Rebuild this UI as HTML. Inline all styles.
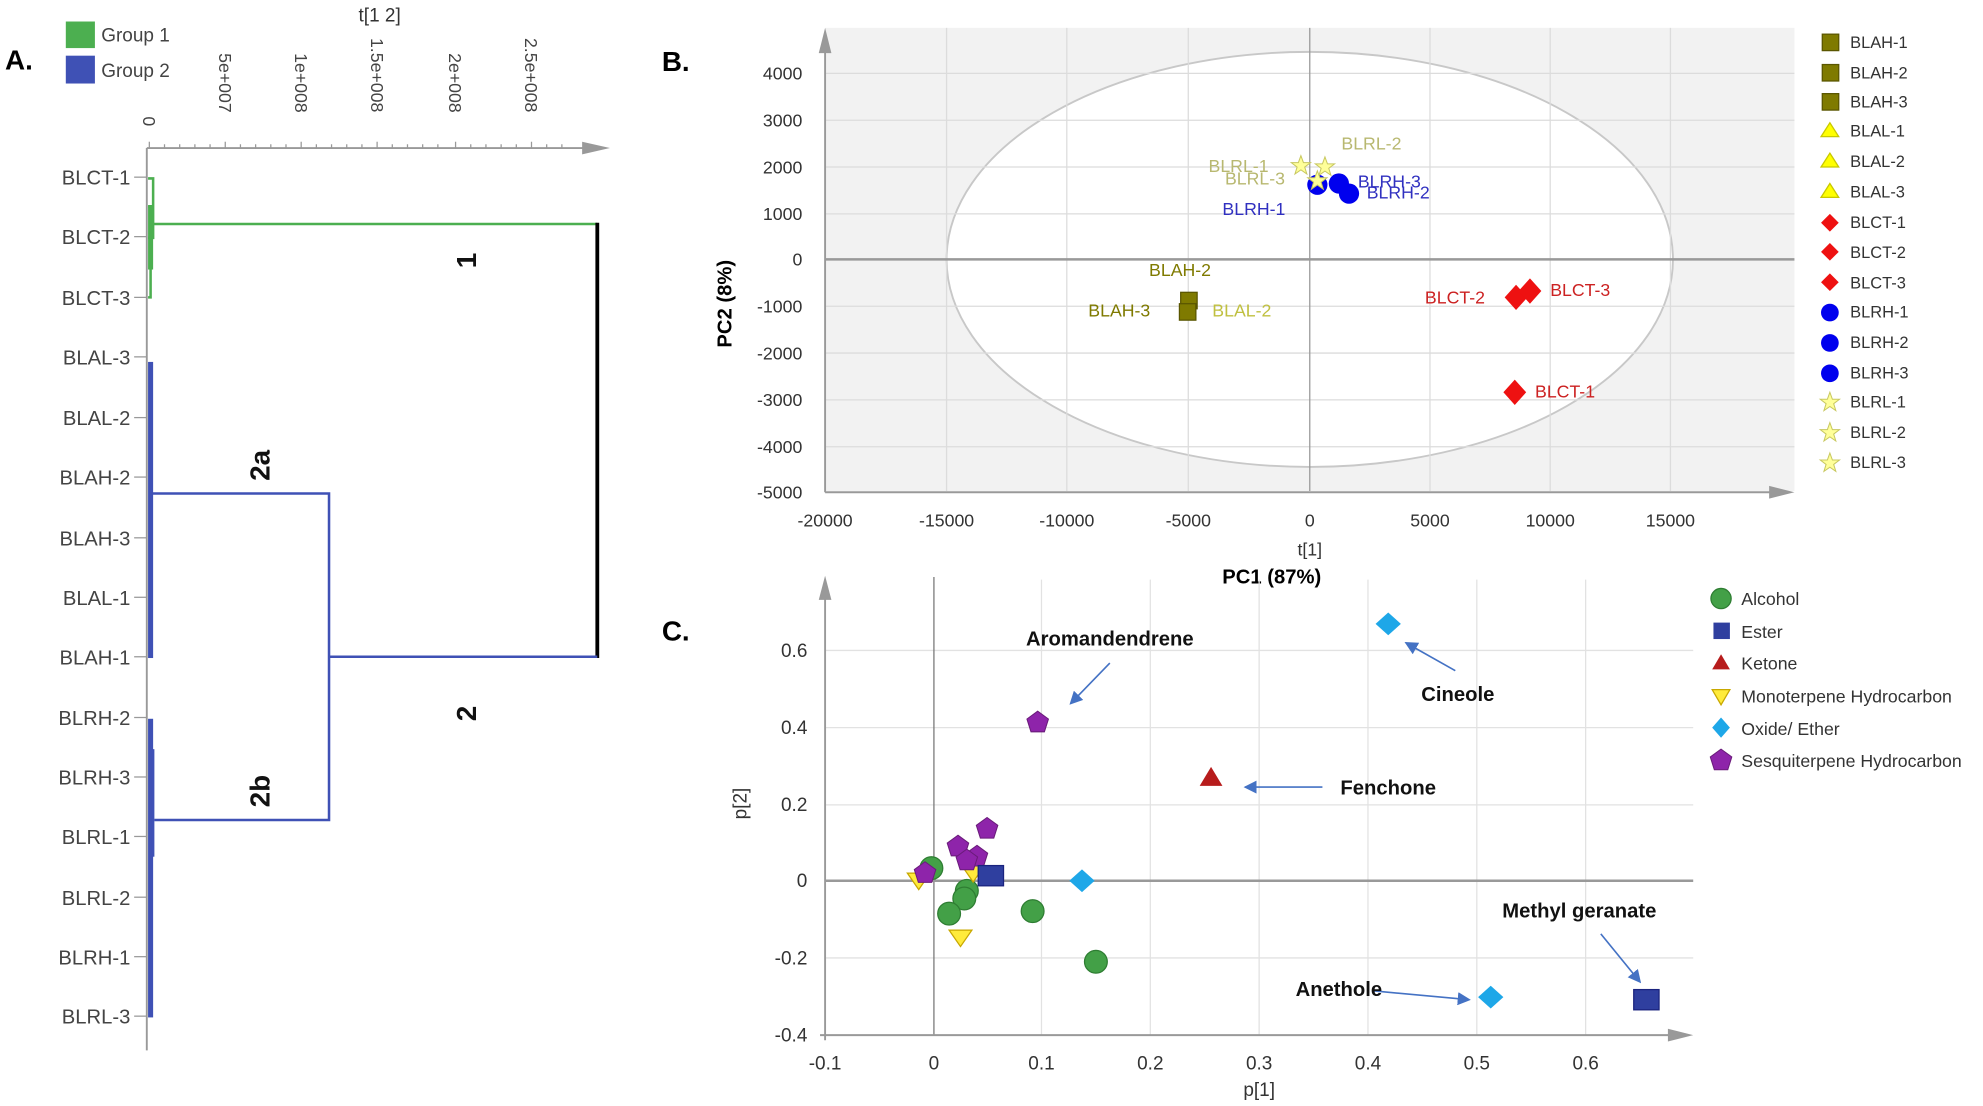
<!DOCTYPE html>
<html><head><meta charset="utf-8"><style>
html,body{margin:0;padding:0;background:#fff;}
svg{display:block;}
text{font-family:"Liberation Sans",sans-serif;}
</style></head><body>
<svg width="1983" height="1106" viewBox="0 0 1567 874" preserveAspectRatio="none" xmlns="http://www.w3.org/2000/svg">
<defs>
<polygon id="star" points="0,-8 2,-2.5 7.6,-2.5 3,1 4.7,6.5 0,3.2 -4.7,6.5 -3,1 -7.6,-2.5 -2,-2.5" fill="#ffff99" stroke="#c8c860" stroke-width="0.8"/>
<polygon id="pent" points="0,-9 8.5,-2.8 5.3,7.3 -5.3,7.3 -8.5,-2.8" fill="#8e24aa" stroke="#6a1b7a" stroke-width="0.8"/>
<marker id="ah" markerWidth="8" markerHeight="8" refX="7" refY="4" orient="auto"><path d="M0,0 L8,4 L0,8 z" fill="#4472c4"/></marker>
</defs>

<!-- ============ PANEL A ============ -->
<text x="4" y="55" font-size="22" font-weight="bold">A.</text>
<rect x="52" y="17" width="23" height="21" fill="#4caf50"/>
<rect x="52" y="44" width="23" height="22" fill="#3f51b5"/>
<text x="80" y="33" font-size="15" fill="#444">Group 1</text>
<text x="80" y="61" font-size="15" fill="#444">Group 2</text>
<text x="300" y="17" font-size="15" fill="#333" text-anchor="middle">t[1 2]</text>
<g font-size="14" fill="#444">
<text transform="translate(113,92) rotate(90)">0</text>
<text transform="translate(173,42) rotate(90)">5e+007</text>
<text transform="translate(233,42) rotate(90)">1e+008</text>
<text transform="translate(293,30) rotate(90)">1.5e+008</text>
<text transform="translate(355,42) rotate(90)">2e+008</text>
<text transform="translate(415,30) rotate(90)">2.5e+008</text>
</g>
<line x1="116" y1="117" x2="465" y2="117" stroke="#999" stroke-width="1.5"/>
<polygon points="460,112 482,117 460,122" fill="#999"/>
<g stroke="#999" stroke-width="1">
<line x1="118" y1="112" x2="118" y2="117"/><line x1="130" y1="114" x2="130" y2="117"/><line x1="142" y1="114" x2="142" y2="117"/><line x1="154" y1="114" x2="154" y2="117"/><line x1="166" y1="114" x2="166" y2="117"/>
<line x1="178" y1="112" x2="178" y2="117"/><line x1="190" y1="114" x2="190" y2="117"/><line x1="202" y1="114" x2="202" y2="117"/><line x1="214" y1="114" x2="214" y2="117"/><line x1="226" y1="114" x2="226" y2="117"/>
<line x1="238" y1="112" x2="238" y2="117"/><line x1="250" y1="114" x2="250" y2="117"/><line x1="262" y1="114" x2="262" y2="117"/><line x1="274" y1="114" x2="274" y2="117"/><line x1="286" y1="114" x2="286" y2="117"/>
<line x1="298" y1="112" x2="298" y2="117"/><line x1="310" y1="114" x2="310" y2="117"/><line x1="322" y1="114" x2="322" y2="117"/><line x1="334" y1="114" x2="334" y2="117"/><line x1="346" y1="114" x2="346" y2="117"/>
<line x1="360" y1="112" x2="360" y2="117"/><line x1="372" y1="114" x2="372" y2="117"/><line x1="384" y1="114" x2="384" y2="117"/><line x1="396" y1="114" x2="396" y2="117"/><line x1="408" y1="114" x2="408" y2="117"/>
<line x1="420" y1="112" x2="420" y2="117"/><line x1="432" y1="114" x2="432" y2="117"/><line x1="444" y1="114" x2="444" y2="117"/>
</g>
<line x1="116" y1="117" x2="116" y2="830" stroke="#999" stroke-width="1.5"/>
<g font-size="16" fill="#444" text-anchor="end">
<text x="103" y="146">BLCT-1</text><text x="103" y="193">BLCT-2</text><text x="103" y="241">BLCT-3</text>
<text x="103" y="288">BLAL-3</text><text x="103" y="336">BLAL-2</text><text x="103" y="383">BLAH-2</text>
<text x="103" y="431">BLAH-3</text><text x="103" y="478">BLAL-1</text><text x="103" y="525">BLAH-1</text>
<text x="103" y="573">BLRH-2</text><text x="103" y="620">BLRH-3</text><text x="103" y="667">BLRL-1</text>
<text x="103" y="715">BLRL-2</text><text x="103" y="762">BLRH-1</text><text x="103" y="809">BLRL-3</text>
</g>
<g stroke="#999" stroke-width="1">
<line x1="106" y1="140" x2="116" y2="140"/><line x1="106" y1="187" x2="116" y2="187"/><line x1="106" y1="235" x2="116" y2="235"/><line x1="106" y1="282" x2="116" y2="282"/><line x1="106" y1="330" x2="116" y2="330"/><line x1="106" y1="377" x2="116" y2="377"/><line x1="106" y1="425" x2="116" y2="425"/><line x1="106" y1="472" x2="116" y2="472"/><line x1="106" y1="519" x2="116" y2="519"/><line x1="106" y1="567" x2="116" y2="567"/><line x1="106" y1="614" x2="116" y2="614"/><line x1="106" y1="661" x2="116" y2="661"/><line x1="106" y1="709" x2="116" y2="709"/><line x1="106" y1="756" x2="116" y2="756"/><line x1="106" y1="803" x2="116" y2="803"/>
</g>
<!-- green cluster -->
<g stroke="#4caf50" stroke-width="2" fill="none">
<path d="M117,141 H121 V188 H117"/>
<path d="M117,163 H121"/>
<rect x="117" y="163" width="4" height="50" fill="#4caf50" stroke="none"/>
<path d="M117,235 H119 V200"/>
<path d="M121,177 H472"/>
</g>
<line x1="472" y1="176" x2="472" y2="520" stroke="#000" stroke-width="3"/>
<!-- blue cluster -->
<rect x="117" y="286" width="4" height="234" fill="#3f51b5"/>
<rect x="117" y="568" width="4" height="236" fill="#3f51b5"/>
<rect x="120" y="592" width="2" height="85" fill="#3f51b5"/>
<g stroke="#3f51b5" stroke-width="2" fill="none">
<path d="M120,390 H260 V648 H122"/>
<path d="M260,519 H472"/>
</g>
<g font-size="22" font-weight="bold" fill="#111">
<text transform="translate(376,212) rotate(-90)">1</text>
<text transform="translate(376,570) rotate(-90)">2</text>
<text transform="translate(213,380) rotate(-90)">2a</text>
<text transform="translate(213,638) rotate(-90)">2b</text>
</g>

<!-- ============ PANEL B ============ -->
<text x="523" y="56" font-size="22" font-weight="bold">B.</text>
<rect x="652" y="22" width="766" height="366" fill="#f2f2f2"/>
<ellipse cx="1035" cy="205" rx="287" ry="164" fill="#fff" stroke="#c8c8c8" stroke-width="1.5"/>
<g stroke="#dcdcdc" stroke-width="1">
<line x1="652" y1="58" x2="1418" y2="58"/><line x1="652" y1="95" x2="1418" y2="95"/><line x1="652" y1="132" x2="1418" y2="132"/><line x1="652" y1="169" x2="1418" y2="169"/><line x1="652" y1="242" x2="1418" y2="242"/><line x1="652" y1="279" x2="1418" y2="279"/><line x1="652" y1="316" x2="1418" y2="316"/><line x1="652" y1="353" x2="1418" y2="353"/>
<line x1="748" y1="22" x2="748" y2="388"/><line x1="843" y1="22" x2="843" y2="388"/><line x1="939" y1="22" x2="939" y2="388"/><line x1="1130" y1="22" x2="1130" y2="388"/><line x1="1225" y1="22" x2="1225" y2="388"/><line x1="1320" y1="22" x2="1320" y2="388"/>
</g>
<line x1="652" y1="205" x2="1418" y2="205" stroke="#999" stroke-width="2"/>
<line x1="1035" y1="22" x2="1035" y2="388" stroke="#999" stroke-width="1"/>
<line x1="652" y1="40" x2="652" y2="389" stroke="#999" stroke-width="1.5"/>
<polygon points="647,42 652,22 657,42" fill="#999"/>
<line x1="652" y1="389" x2="1400" y2="389" stroke="#999" stroke-width="1.5"/>
<polygon points="1398,384 1418,389 1398,394" fill="#999"/>
<g font-size="14" fill="#333" text-anchor="end">
<text x="634" y="63">4000</text><text x="634" y="100">3000</text><text x="634" y="137">2000</text><text x="634" y="174">1000</text><text x="634" y="210">0</text><text x="634" y="247">-1000</text><text x="634" y="284">-2000</text><text x="634" y="321">-3000</text><text x="634" y="358">-4000</text><text x="634" y="394">-5000</text>
</g>
<g font-size="14" fill="#333" text-anchor="middle">
<text x="652" y="416">-20000</text><text x="748" y="416">-15000</text><text x="843" y="416">-10000</text><text x="939" y="416">-5000</text><text x="1035" y="416">0</text><text x="1130" y="416">5000</text><text x="1225" y="416">10000</text><text x="1320" y="416">15000</text>
<text x="1035" y="439">t[1]</text>
</g>
<text x="1005" y="461" font-size="16" font-weight="bold" text-anchor="middle">PC1 (87%)</text>
<text transform="translate(578,240) rotate(-90)" font-size="16" font-weight="bold" text-anchor="middle">PC2 (8%)</text>
<!-- points -->
<rect x="933" y="231" width="13" height="13" fill="#7f7a00" stroke="#5a5600"/>
<rect x="932" y="240" width="13" height="13" fill="#7f7a00" stroke="#5a5600"/>
<circle cx="1041" cy="146" r="8" fill="#0000ee"/>
<circle cx="1058" cy="145" r="8" fill="#0000ee"/>
<circle cx="1066" cy="153" r="8" fill="#0000ee"/>
<use href="#star" x="1028" y="131"/><use href="#star" x="1047" y="132"/><use href="#star" x="1041" y="143"/>
<polygon points="1198,225 1207,235 1198,245 1189,235" fill="#ee1111"/>
<polygon points="1209,220 1218,230 1209,240 1200,230" fill="#ee1111"/>
<polygon points="1197,300 1206,310 1197,320 1188,310" fill="#ee1111"/>
<g font-size="14">
<text x="1060" y="118" fill="#b8b870">BLRL-2</text>
<text x="955" y="136" fill="#b8b870">BLRL-1</text>
<text x="968" y="146" fill="#b8b870">BLRL-3</text>
<text x="1073" y="148" fill="#3030c0">BLRH-3</text>
<text x="1080" y="157" fill="#3030c0">BLRH-2</text>
<text x="966" y="170" fill="#3030c0">BLRH-1</text>
<text x="908" y="218" fill="#7f7a00">BLAH-2</text>
<text x="860" y="250" fill="#7f7a00">BLAH-3</text>
<text x="958" y="250" fill="#c0c040">BLAL-2</text>
<text x="1126" y="240" fill="#cc2222">BLCT-2</text>
<text x="1225" y="234" fill="#cc2222">BLCT-3</text>
<text x="1213" y="314" fill="#cc2222">BLCT-1</text>
</g>
<!-- legend B -->
<g font-size="13" fill="#333">
<rect x="1440" y="27" width="13" height="13" fill="#7f7a00" stroke="#5a5600"/><text x="1462" y="38">BLAH-1</text>
<rect x="1440" y="51" width="13" height="13" fill="#7f7a00" stroke="#5a5600"/><text x="1462" y="62">BLAH-2</text>
<rect x="1440" y="74" width="13" height="13" fill="#7f7a00" stroke="#5a5600"/><text x="1462" y="85">BLAH-3</text>
<polygon points="1446,97 1453,108 1439,108" fill="#ffff00" stroke="#c8c800"/><text x="1462" y="108">BLAL-1</text>
<polygon points="1446,121 1453,132 1439,132" fill="#ffff00" stroke="#c8c800"/><text x="1462" y="132">BLAL-2</text>
<polygon points="1446,145 1453,156 1439,156" fill="#ffff00" stroke="#c8c800"/><text x="1462" y="156">BLAL-3</text>
<polygon points="1446,169 1453,176 1446,183 1439,176" fill="#ee1111"/><text x="1462" y="180">BLCT-1</text>
<polygon points="1446,192 1453,199 1446,206 1439,199" fill="#ee1111"/><text x="1462" y="204">BLCT-2</text>
<polygon points="1446,216 1453,223 1446,230 1439,223" fill="#ee1111"/><text x="1462" y="228">BLCT-3</text>
<circle cx="1446" cy="247" r="7" fill="#0000ee"/><text x="1462" y="251">BLRH-1</text>
<circle cx="1446" cy="271" r="7" fill="#0000ee"/><text x="1462" y="275">BLRH-2</text>
<circle cx="1446" cy="295" r="7" fill="#0000ee"/><text x="1462" y="299">BLRH-3</text>
<use href="#star" x="1446" y="318"/><text x="1462" y="322">BLRL-1</text>
<use href="#star" x="1446" y="342"/><text x="1462" y="346">BLRL-2</text>
<use href="#star" x="1446" y="366"/><text x="1462" y="370">BLRL-3</text>
</g>

<!-- ============ PANEL C ============ -->
<text x="523" y="506" font-size="22" font-weight="bold">C.</text>
<g stroke="#e2e2e2" stroke-width="1">
<line x1="823" y1="458" x2="823" y2="818"/><line x1="909" y1="458" x2="909" y2="818"/><line x1="995" y1="458" x2="995" y2="818"/><line x1="1081" y1="458" x2="1081" y2="818"/><line x1="1167" y1="458" x2="1167" y2="818"/><line x1="1253" y1="458" x2="1253" y2="818"/>
<line x1="652" y1="514" x2="1338" y2="514"/><line x1="652" y1="575" x2="1338" y2="575"/><line x1="652" y1="636" x2="1338" y2="636"/><line x1="652" y1="757" x2="1338" y2="757"/>
</g>
<line x1="738" y1="456" x2="738" y2="818" stroke="#777" stroke-width="1"/>
<line x1="652" y1="696" x2="1338" y2="696" stroke="#999" stroke-width="2"/>
<line x1="652" y1="470" x2="652" y2="822" stroke="#999" stroke-width="1.5"/>
<polygon points="647,474 652,455 657,474" fill="#999"/>
<line x1="648" y1="818" x2="1320" y2="818" stroke="#999" stroke-width="1.5"/>
<polygon points="1318,813 1338,818 1318,823" fill="#999"/>
<g font-size="15" fill="#333" text-anchor="end">
<text x="638" y="519">0.6</text><text x="638" y="580">0.4</text><text x="638" y="641">0.2</text><text x="638" y="701">0</text><text x="638" y="762">-0.2</text><text x="638" y="823">-0.4</text>
</g>
<g font-size="15" fill="#333" text-anchor="middle">
<text x="652" y="845">-0.1</text><text x="738" y="845">0</text><text x="823" y="845">0.1</text><text x="909" y="845">0.2</text><text x="995" y="845">0.3</text><text x="1081" y="845">0.4</text><text x="1167" y="845">0.5</text><text x="1253" y="845">0.6</text>
<text x="995" y="866">p[1]</text>
</g>
<text transform="translate(590,635) rotate(-90)" font-size="15" fill="#333" text-anchor="middle">p[2]</text>
<!-- points C -->
<circle cx="736" cy="686" r="9" fill="#43a047" stroke="#2e7d32"/>
<circle cx="764" cy="704" r="9" fill="#43a047" stroke="#2e7d32"/>
<circle cx="762" cy="710" r="9" fill="#43a047" stroke="#2e7d32"/>
<circle cx="750" cy="722" r="9" fill="#43a047" stroke="#2e7d32"/>
<circle cx="816" cy="720" r="9" fill="#43a047" stroke="#2e7d32"/>
<circle cx="866" cy="760" r="9" fill="#43a047" stroke="#2e7d32"/>
<polygon points="717,690 735,690 726,703" fill="#ffeb3b" stroke="#c8a800"/>
<polygon points="760,684 778,684 769,697" fill="#ffeb3b" stroke="#c8a800"/>
<polygon points="750,735 768,735 759,748" fill="#ffeb3b" stroke="#c8a800"/>
<use href="#pent" x="780" y="655"/><use href="#pent" x="757" y="669"/><use href="#pent" x="772" y="677"/><use href="#pent" x="764" y="680"/><use href="#pent" x="731" y="690"/>
<use href="#pent" x="820" y="571"/>
<rect x="773" y="684" width="20" height="16" fill="#2f3f9f" stroke="#1a237e"/>
<rect x="1291" y="782" width="20" height="16" fill="#2f3f9f" stroke="#1a237e"/>
<polygon points="855,687 865,696 855,705 845,696" fill="#1ea7e8"/>
<polygon points="1178,779 1188,788 1178,797 1168,788" fill="#1ea7e8"/>
<polygon points="1097,484 1107,493 1097,502 1087,493" fill="#1ea7e8"/>
<polygon points="957,606 966,621 948,621" fill="#b71c1c"/>
<!-- annotations -->
<g stroke="#4472c4" stroke-width="1.3" marker-end="url(#ah)">
<line x1="877" y1="524" x2="846" y2="556"/>
<line x1="1150" y1="530" x2="1111" y2="508"/>
<line x1="1045" y1="622" x2="984" y2="622"/>
<line x1="1265" y1="738" x2="1296" y2="776"/>
<line x1="1085" y1="783" x2="1161" y2="790"/>
</g>
<g font-size="16" font-weight="bold" fill="#111" text-anchor="middle">
<text x="877" y="510">Aromandendrene</text>
<text x="1152" y="554">Cineole</text>
<text x="1097" y="628">Fenchone</text>
<text x="1248" y="725">Methyl geranate</text>
<text x="1058" y="787">Anethole</text>
</g>
<!-- legend C -->
<g font-size="14" fill="#333">
<circle cx="1360" cy="473" r="8" fill="#43a047" stroke="#2e7d32"/><text x="1376" y="478">Alcohol</text>
<rect x="1354" y="492" width="13" height="13" fill="#2f3f9f"/><text x="1376" y="504">Ester</text>
<polygon points="1360,517 1367,529 1353,529" fill="#b71c1c"/><text x="1376" y="529">Ketone</text>
<polygon points="1353,545 1367,545 1360,557" fill="#ffeb3b" stroke="#c8a800"/><text x="1376" y="555">Monoterpene Hydrocarbon</text>
<polygon points="1360,567 1367,575 1360,583 1353,575" fill="#1ea7e8"/><text x="1376" y="581">Oxide/ Ether</text>
<use href="#pent" x="1360" y="601"/><text x="1376" y="606">Sesquiterpene Hydrocarbon</text>
</g>
</svg>
</body></html>
